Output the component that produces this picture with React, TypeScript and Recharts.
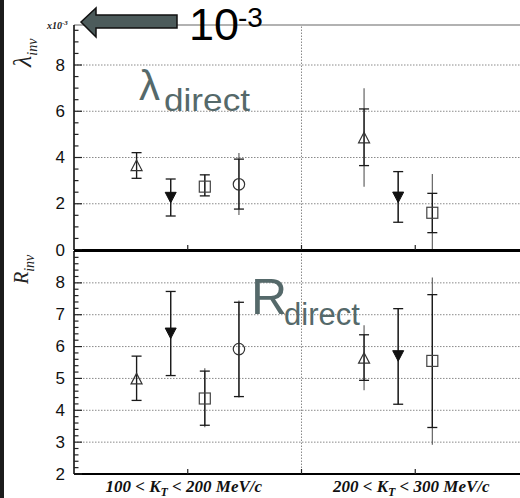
import React from "react";
import { ScatterChart, Scatter, XAxis, YAxis, ErrorBar, ReferenceLine } from "recharts";

// kT bins: centre on the x scale and the range in MeV/c
const KT_CENTERS = [1, 3];
const KT_RANGES = [
  [100, 200],
  [200, 300],
];
const X_TICKS = [1, 2, 3];
const BIN_DIVIDER = 2;

// horizontal position of each species inside a bin
const OFFSET_TRI = -0.45;
const OFFSET_INV = -0.15;
const OFFSET_SQ = 0.15;
const OFFSET_CIRC = 0.45;

// lambda_inv (x10^-3): value, stat [lo, hi], sys [lo, hi]
const LAMBDA_TRI = [3.63, 4.83];
const LAMBDA_TRI_STAT = [[3.1, 4.21], [3.65, 6.1]];
const LAMBDA_TRI_SYS = [[3.1, 4.21], [2.74, 7.0]];
const LAMBDA_INV = [2.3, 2.31];
const LAMBDA_INV_STAT = [[1.47, 3.07], [1.2, 3.39]];
const LAMBDA_INV_SYS = [[1.47, 3.07], [1.2, 3.39]];
const LAMBDA_SQ = [2.74, 1.61];
const LAMBDA_SQ_STAT = [[2.34, 3.25], [0.75, 2.45]];
const LAMBDA_SQ_SYS = [[2.34, 3.25], [0, 3.29]];
const LAMBDA_CIRC = [2.84];
const LAMBDA_CIRC_STAT = [[1.77, 3.93]];
const LAMBDA_CIRC_SYS = [[1.51, 4.19]];

// R_inv (fm)
const R_TRI = [4.97, 5.62];
const R_TRI_STAT = [[4.31, 5.7], [4.94, 6.37]];
const R_TRI_SYS = [[4.31, 5.7], [4.63, 6.67]];
const R_INV = [6.44, 5.73];
const R_INV_STAT = [[5.09, 7.73], [4.19, 7.19]];
const R_INV_SYS = [[5.09, 7.73], [4.19, 7.19]];
const R_SQ = [4.37, 5.55];
const R_SQ_STAT = [[3.53, 5.23], [3.46, 7.63]];
const R_SQ_SYS = [[3.47, 5.32], [2.92, 8.17]];
const R_CIRC = [5.92];
const R_CIRC_STAT = [[4.43, 7.39]];
const R_CIRC_SYS = [[4.4, 7.45]];

// axes
const LAMBDA_MAX = 9.73;
const LAMBDA_LABELS = [0, 2, 4, 6, 8];
const LAMBDA_STEP = 0.5;
const R_MIN = 2;
const R_MAX = 9;
const R_LABELS = [2, 3, 4, 5, 6, 7, 8];
const R_STEP = 0.2;

const TEAL = "#55696a";
const SANS = "'Liberation Sans', Arial, sans-serif";
const SERIF = "'Liberation Serif', 'Times New Roman', serif";

const steps = (lo: number, hi: number, step: number) => {
  const out: number[] = [];
  for (let v = lo; v <= hi + 1e-9; v += step) out.push(Math.round(v * 100) / 100);
  return out;
};

const build = (vals: number[], stat: number[][], sys: number[][], offset: number) =>
  vals.map((v, i) => ({
    x: KT_CENTERS[i] + offset,
    y: v,
    stat: [v - stat[i][0], stat[i][1] - v],
    sys: [v - sys[i][0], sys[i][1] - v],
  }));

type Kind = "tri" | "inv" | "sq" | "circ";

function Marker({ cx, cy, kind }: { cx?: number; cy?: number; kind: Kind }) {
  if (cx == null || cy == null) return null;
  if (kind === "tri")
    return (
      <polygon
        points={`${cx},${cy - 6} ${cx - 5.5},${cy + 4.5} ${cx + 5.5},${cy + 4.5}`}
        fill="none"
        stroke="#333"
        strokeWidth={1.2}
      />
    );
  if (kind === "inv")
    return (
      <polygon
        points={`${cx - 5.5},${cy - 4.5} ${cx + 5.5},${cy - 4.5} ${cx},${cy + 6}`}
        fill="#111"
        stroke="#111"
        strokeWidth={1}
      />
    );
  if (kind === "sq")
    return <rect x={cx - 5.5} y={cy - 5.5} width={11} height={11} fill="none" stroke="#444" strokeWidth={1.2} />;
  return <circle cx={cx} cy={cy} r={5.7} fill="none" stroke="#333" strokeWidth={1.2} />;
}

function series(data: ReturnType<typeof build>, kind: Kind) {
  return (
    <Scatter
      key={kind}
      data={data}
      isAnimationActive={false}
      shape={(p: any) => <Marker cx={p.cx} cy={p.cy} kind={kind} />}
    >
      <ErrorBar dataKey="sys" direction="y" width={0} stroke="#555" strokeWidth={1.1} />
      <ErrorBar dataKey="stat" direction="y" width={5} stroke="#1a1a1a" strokeWidth={1.3} />
    </Scatter>
  );
}

function YTick(props: any) {
  const { x, y, payload, labels } = props;
  const major = labels.some((l: number) => Math.abs(l - payload.value) < 1e-6);
  return (
    <g>
      <line x1={x} x2={x + (major ? 8 : 4.5)} y1={y} y2={y} stroke="#222" strokeWidth={1.2} />
      {major && (
        <text x={x - 9} y={y} textAnchor="end" dominantBaseline="central" fontFamily={SANS} fontSize={17} fill="#111">
          {payload.value}
        </text>
      )}
    </g>
  );
}

function XTick(props: any) {
  const { x, y, payload, withLabels } = props;
  const idx = KT_CENTERS.indexOf(payload.value);
  return (
    <g>
      <line x1={x} x2={x} y1={y} y2={y - 5} stroke="#222" strokeWidth={1.2} />
      {withLabels && idx >= 0 && (
        <text
          x={x - 4}
          y={y + 18}
          textAnchor="middle"
          fontFamily={SERIF}
          fontStyle="italic"
          fontWeight="bold"
          fontSize={17}
          fill="#111"
        >
          {KT_RANGES[idx][0]} {"<"} K
          <tspan fontSize={12} dy={4}>
            T
          </tspan>
          <tspan dy={-4}>
            {" "}
            {"<"} {KT_RANGES[idx][1]} MeV/c
          </tspan>
        </text>
      )}
    </g>
  );
}

const dotted = { stroke: "#8a8a8a", strokeDasharray: "1.5 1.5", strokeWidth: 1 };

function LambdaPanel() {
  return (
    <ScatterChart width={560} height={260} margin={{ top: 25, right: 31, bottom: 0, left: 0 }}>
      <XAxis
        type="number"
        dataKey="x"
        domain={[0, 4]}
        ticks={X_TICKS}
        interval={0}
        height={10}
        tickSize={0}
        tickMargin={0}
        tickLine={false}
        axisLine={{ stroke: "#000", strokeWidth: 2 }}
        tick={<XTick withLabels={false} />}
        allowDataOverflow
      />
      <YAxis
        type="number"
        dataKey="y"
        domain={[0, LAMBDA_MAX]}
        ticks={steps(0, 9.5, LAMBDA_STEP)}
        interval={0}
        width={74}
        tickSize={0}
        tickMargin={0}
        tickLine={false}
        axisLine={{ stroke: "#000", strokeWidth: 1.5 }}
        tick={<YTick labels={LAMBDA_LABELS} />}
        allowDataOverflow
      />
      {LAMBDA_LABELS.filter((v) => v > 0).map((v) => (
        <ReferenceLine key={v} y={v} {...dotted} />
      ))}
      <ReferenceLine x={BIN_DIVIDER} {...dotted} />
      <ReferenceLine y={LAMBDA_MAX} stroke="#666" strokeWidth={1.2} />
      {series(build(LAMBDA_TRI, LAMBDA_TRI_STAT, LAMBDA_TRI_SYS, OFFSET_TRI), "tri")}
      {series(build(LAMBDA_INV, LAMBDA_INV_STAT, LAMBDA_INV_SYS, OFFSET_INV), "inv")}
      {series(build(LAMBDA_SQ, LAMBDA_SQ_STAT, LAMBDA_SQ_SYS, OFFSET_SQ), "sq")}
      {series(build(LAMBDA_CIRC, LAMBDA_CIRC_STAT, LAMBDA_CIRC_SYS, OFFSET_CIRC), "circ")}
    </ScatterChart>
  );
}

function RadiusPanel() {
  return (
    <ScatterChart width={560} height={258} margin={{ top: 11, right: 31, bottom: 0, left: 0 }}>
      <XAxis
        type="number"
        dataKey="x"
        domain={[0, 4]}
        ticks={X_TICKS}
        interval={0}
        height={24}
        tickSize={0}
        tickMargin={0}
        tickLine={false}
        axisLine={{ stroke: "#000", strokeWidth: 2 }}
        tick={<XTick withLabels />}
        allowDataOverflow
      />
      <YAxis
        type="number"
        dataKey="y"
        domain={[R_MIN, R_MAX]}
        ticks={steps(R_MIN, 8.8, R_STEP)}
        interval={0}
        width={74}
        tickSize={0}
        tickMargin={0}
        tickLine={false}
        axisLine={{ stroke: "#000", strokeWidth: 1.5 }}
        tick={<YTick labels={R_LABELS} />}
        allowDataOverflow
      />
      {R_LABELS.filter((v) => v > R_MIN).map((v) => (
        <ReferenceLine key={v} y={v} {...dotted} />
      ))}
      <ReferenceLine x={BIN_DIVIDER} {...dotted} />
      <ReferenceLine y={R_MAX} stroke="#000" strokeWidth={2} />
      {series(build(R_TRI, R_TRI_STAT, R_TRI_SYS, OFFSET_TRI), "tri")}
      {series(build(R_INV, R_INV_STAT, R_INV_SYS, OFFSET_INV), "inv")}
      {series(build(R_SQ, R_SQ_STAT, R_SQ_SYS, OFFSET_SQ), "sq")}
      {series(build(R_CIRC, R_CIRC_STAT, R_CIRC_SYS, OFFSET_CIRC), "circ")}
    </ScatterChart>
  );
}

// axis titles, scale note and the big annotations
function Overlay() {
  return (
    <svg width={520} height={498} style={{ position: "absolute", left: 0, top: 0, pointerEvents: "none" }}>
      <rect x={0} y={0} width={4} height={498} fill="#1c1c1c" />
      <text transform="translate(31,67) rotate(-90)" fontFamily={SERIF} fontStyle="italic" fontSize={26} fill="#222">
        λ
        <tspan fontSize={14} dy={6}>
          inv
        </tspan>
      </text>
      <text transform="translate(28,284) rotate(-90)" fontFamily={SERIF} fontStyle="italic" fontSize={20} fill="#222">
        R
        <tspan fontSize={14} dy={6}>
          inv
        </tspan>
      </text>
      <text x={47} y={29} fontFamily={SERIF} fontStyle="italic" fontWeight="bold" fontSize={10} fill="#222">
        x10
        <tspan fontSize={7} dy={-4}>
          -3
        </tspan>
      </text>
      <polygon
        points="81,22 96,8 96,15 177,15 177,28 96,28 96,37"
        fill="#4c5b5b"
        stroke="#111"
        strokeWidth={1.5}
        strokeLinejoin="miter"
      />
      <text x={189} y={40} fontFamily={SANS} fontSize={45} fill="#000">
        10
      </text>
      <text x={238} y={27} fontFamily={SANS} fontSize={28} fill="#000">
        -3
      </text>
      <text x={139} y={100} fontFamily={SANS} fontSize={42} fill={TEAL}>
        λ
      </text>
      <text x={164} y={111} fontFamily={SANS} fontSize={32} fill={TEAL} textLength={86} lengthAdjust="spacingAndGlyphs">
        direct
      </text>
      <text x={251} y={314} fontFamily={SANS} fontSize={50} fill={TEAL}>
        R
      </text>
      <text x={284} y={325} fontFamily={SANS} fontSize={31} fill={TEAL}>
        direct
      </text>
    </svg>
  );
}

export default function App() {
  return (
    <div
      style={{
        position: "absolute",
        left: 0,
        top: 0,
        width: 520,
        height: 498,
        overflow: "hidden",
        background: "#fff",
      }}
    >
      <div style={{ position: "absolute", left: 0, top: 0 }}>
        <LambdaPanel />
      </div>
      <div style={{ position: "absolute", left: 0, top: 240 }}>
        <RadiusPanel />
      </div>
      <Overlay />
    </div>
  );
}
